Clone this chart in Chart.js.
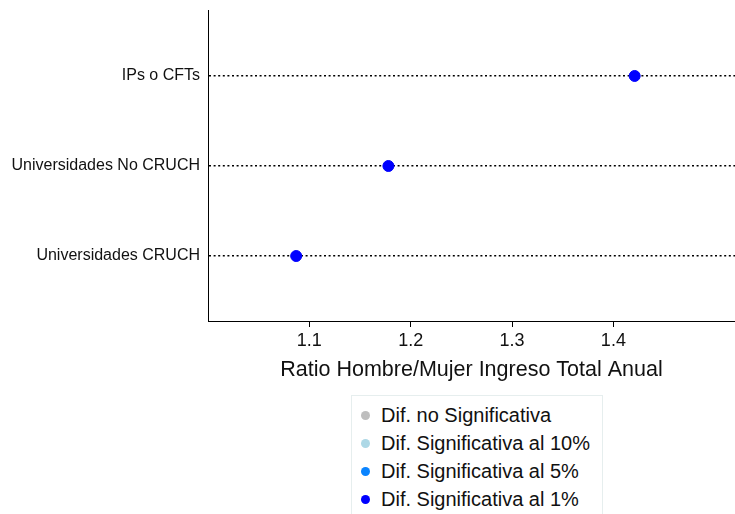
<!DOCTYPE html>
<html>
<head>
<meta charset="utf-8">
<script src="https://cdn.jsdelivr.net/npm/chart.js@4/dist/chart.umd.min.js"></script>
<style>
  body { margin: 0; background: #fff; font-family: "Liberation Sans", Arial, sans-serif; }
  #wrap { position: relative; width: 735px; height: 514px; overflow: hidden; }
  #chart { position: absolute; left: 0; top: 0; }
  #legend { position: absolute; left: 351px; top: 395px; width: 252px; height: 140px;
    border: 1px solid #e6eeee; box-sizing: border-box; padding-top: 5px; }
  .item { height: 28px; line-height: 28px; font-size: 20px; color: #111; white-space: nowrap; }
  .dot { display: inline-block; width: 9px; height: 9px; border-radius: 50%;
    margin-left: 9px; margin-right: 11px; vertical-align: 2px; }
</style>
</head>
<body>
<div id="wrap">
  <canvas id="chart" width="735" height="395"></canvas>
  <div id="legend"></div>
</div>
<script>
const categories = ["Universidades CRUCH", "Universidades No CRUCH", "IPs o CFTs"];
const ratios = [1.087, 1.178, 1.421];
// significance level of each category (index into levels)
const significance = [3, 3, 3];
const levels = ["Dif. no Significativa", "Dif. Significativa al 10%", "Dif. Significativa al 5%", "Dif. Significativa al 1%"];
const levelColors = ["#bebebe", "#add8e6", "#0a84ff", "#0000ff"];
const xTicks = [1.1, 1.2, 1.3, 1.4];

const datasets = levels.map(function (lvl, k) {
  const pts = [];
  categories.forEach(function (c, i) {
    if (significance[i] === k) pts.push({ x: ratios[i], y: i + 1 });
  });
  return {
    label: lvl,
    data: pts,
    backgroundColor: levelColors[k],
    borderColor: levelColors[k],
    pointRadius: 5.5,
    pointHoverRadius: 5.5,
  };
});

const ctx = document.getElementById("chart").getContext("2d");
const chart = new Chart(ctx, {
  type: "scatter",
  data: { datasets: datasets },
  options: {
    responsive: false,
    animation: false,
    layout: { autoPadding: false, padding: { top: 10, right: 0, left: 0, bottom: 0 } },
    plugins: { legend: { display: false }, tooltip: { enabled: false } },
    scales: {
      x: {
        type: "linear",
        min: 1.0,
        max: 1.52,
        afterBuildTicks: function (axis) {
          axis.ticks = xTicks.map(function (v) { return { value: v }; });
        },
        afterFit: function (axis) {
          axis.height = 74;
          axis.paddingLeft = 0;
          axis.paddingRight = 0;
        },
        grid: { drawOnChartArea: false, drawTicks: true, tickLength: 6, color: "#000" },
        border: { color: "#000", width: 1 },
        ticks: {
          color: "#111",
          padding: 3,
          font: { family: "Liberation Sans", size: 18 },
          callback: function (v) { return v.toFixed(1); },
        },
        title: {
          display: true,
          text: "Ratio Hombre/Mujer Ingreso Total Anual",
          color: "#111",
          font: { family: "Liberation Sans", size: 21.5 },
          padding: { top: 0, bottom: 12 },
        },
      },
      y: {
        type: "linear",
        min: 0.278,
        max: 3.733,
        afterFit: function (axis) {
          axis.width = 208;
          axis.paddingTop = 0;
          axis.paddingBottom = 0;
        },
        grid: { drawOnChartArea: true, drawTicks: false, color: "#000", lineWidth: 1.5 },
        border: { color: "#000", width: 1, dash: [2, 2.6] },
        ticks: {
          stepSize: 1,
          includeBounds: false,
          padding: 8,
          color: "#111",
          font: { family: "Liberation Sans", size: 16 },
          callback: function (v) { return categories[v - 1] || ""; },
        },
      },
    },
  },
});

// html legend built from the chart's datasets
const legendEl = document.getElementById("legend");
chart.data.datasets.forEach(function (ds) {
  const row = document.createElement("div");
  row.className = "item";
  const dot = document.createElement("span");
  dot.className = "dot";
  dot.style.background = ds.backgroundColor;
  row.appendChild(dot);
  row.appendChild(document.createTextNode(ds.label));
  legendEl.appendChild(row);
});
</script>
</body>
</html>
